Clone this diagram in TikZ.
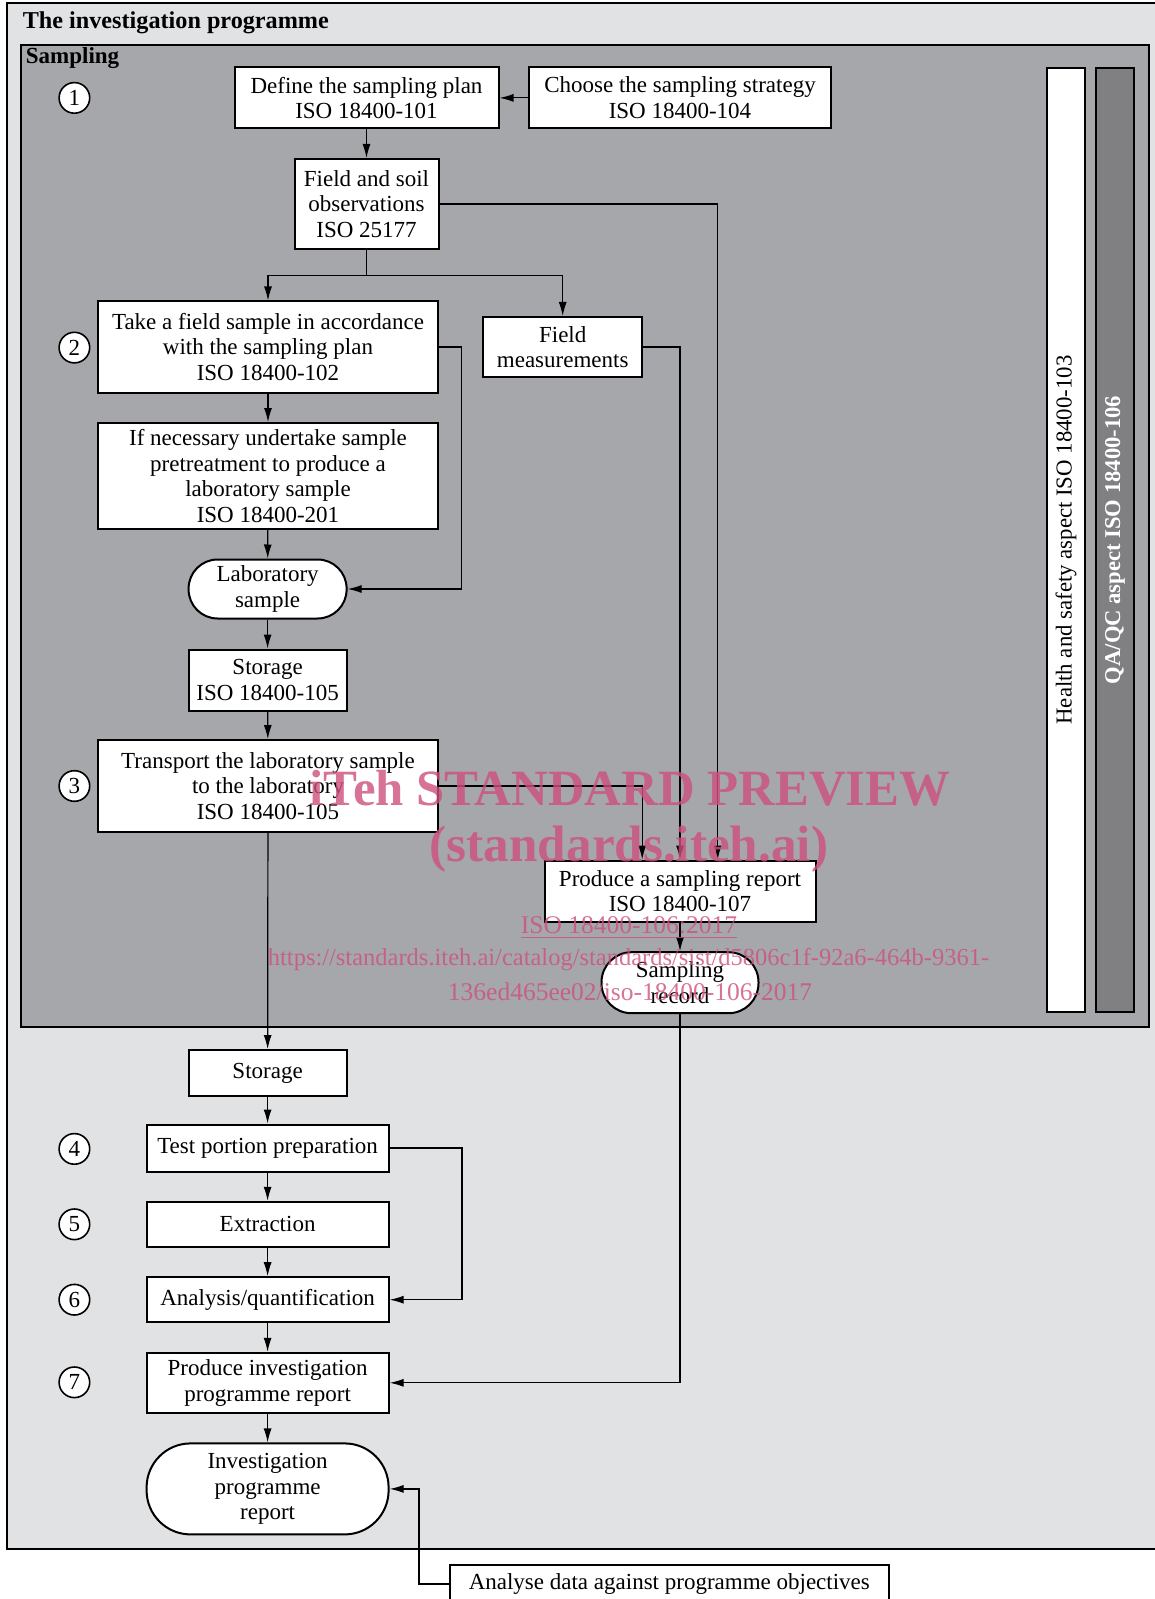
\documentclass[tikz,border=0pt]{standalone}
\usepackage{fontspec}
\setmainfont{Liberation Serif}
\usetikzlibrary{arrows.meta,calc}

\definecolor{framegrey}{HTML}{E1E2E4}
\definecolor{samplegrey}{HTML}{A6A7AB}
\definecolor{qagrey}{HTML}{808083}
\definecolor{markpink}{RGB}{205,80,125}

\tikzset{
  box/.style={draw,line width=1pt,fill=white,align=center,inner sep=0pt,
    font=\fontsize{11.5}{12.8}\selectfont},
  roundbox/.style={box,rounded corners=#1},
  arr/.style={-{Latex[length=7pt,width=4pt]},line width=0.6pt},
  num/.style={draw,circle,fill=white,line width=0.8pt,inner sep=0pt,
    minimum size=15.3pt,font=\fontsize{11.5}{12.8}\selectfont},
  strip/.style={draw,line width=1pt,rotate=90,minimum width=472pt,
    minimum height=19pt,inner sep=0pt,font=\fontsize{11.4}{12.8}\selectfont},
  watermark/.style={text=markpink,opacity=0.8,inner sep=0pt}
}

\begin{document}
\begin{tikzpicture}[x=0.5pt,y=-0.5pt]
\useasboundingbox (0,0) rectangle (1155,1599);
\clip (0,0) rectangle (1155,1599);

% frames
\draw[line width=1pt,fill=framegrey] (7,3) rectangle (1170,1549);
\draw[line width=1pt,fill=samplegrey] (21,45) rectangle (1149,1027);
\node[anchor=west,inner sep=0pt,font=\fontsize{12.1}{14}\selectfont\bfseries] (title) at (22.4,22.4) {The investigation programme};
\node[anchor=west,inner sep=0pt,font=\fontsize{11.5}{14}\selectfont\bfseries] (sampling) at (25.5,58) {Sampling};

% side strips
\node[strip,fill=white] (health) at (1066,540) {Health and safety aspect ISO 18400-103};
\node[strip,fill=qagrey,text=white,font=\fontsize{11.3}{12.8}\selectfont\bfseries] (qaqc) at (1115,540) {QA/QC aspect ISO 18400-106};

% step numbers
\foreach \n/\y in {1/97.9,2/347.6,3/786,4/1148.9,5/1224.3,6/1299.7,7/1382.3}
  \node[num] (num\n) at (74.4,\y) {\n};

% sampling part
\node[box,minimum width=132pt,minimum height=30.5pt] (define) at (366.5,97.9) {Define the sampling plan\\ISO 18400-101};
\node[box,minimum width=151pt,minimum height=30.5pt] (choose) at (680,97.9) {Choose the sampling strategy\\ISO 18400-104};
\node[box,minimum width=72pt,minimum height=45pt] (soil) at (366.5,204) {Field and soil\\observations\\ISO 25177};
\node[box,minimum width=170pt,minimum height=45.5pt] (take) at (268,347) {Take a field sample in accordance\\with the sampling plan\\ISO 18400-102};
\node[box,minimum width=79.5pt,minimum height=30pt] (meas) at (562.7,347) {Field\\measurements};
\node[box,minimum width=170pt,minimum height=53pt] (pretreat) at (268,476) {If necessary undertake sample\\pretreatment to produce a\\laboratory sample\\ISO 18400-201};
\node[roundbox=14.5pt,minimum width=79pt,minimum height=29.5pt] (labsample) at (267.6,589) {Laboratory\\sample};
\node[box,minimum width=79pt,minimum height=30.5pt] (storeA) at (267.6,680) {Storage\\ISO 18400-105};
\node[box,minimum width=170pt,minimum height=46pt] (transport) at (268,786) {Transport the laboratory sample\\to the laboratory\\ISO 18400-105};
\node[box,minimum width=135.5pt,minimum height=30.5pt] (report) at (680,891) {Produce a sampling report\\ISO 18400-107};
\node[roundbox=15pt,minimum width=78.5pt,minimum height=30.5pt] (record) at (680,982.7) {Sampling\\record};

% laboratory part
\node[box,minimum width=79pt,minimum height=23pt] (storeB) at (267.6,1073) {Storage};
\node[box,minimum width=121pt,minimum height=23.5pt] (testprep) at (267.6,1148) {Test portion preparation};
\node[box,minimum width=121pt,minimum height=22.5pt] (extract) at (267.6,1224.3) {Extraction};
\node[box,minimum width=121pt,minimum height=22.5pt] (analysis) at (267.6,1299.7) {Analysis/quantification};
\node[box,minimum width=121pt,minimum height=30pt] (progrep) at (267.6,1382.8) {Produce investigation\\programme report};
\node[roundbox=22pt,minimum width=121pt,minimum height=45.5pt] (invrep) at (267.6,1488.9) {Investigation\\programme\\report};
\node[box,minimum width=219.7pt,minimum height=19pt] (objectives) at (669.3,1584) {Analyse data against programme objectives};

% connectors
\coordinate (split) at (366.5,275.2);
\draw[arr] (choose.west) -- (define.east);
\draw[arr] (define) -- (soil);
\draw[line width=0.6pt] (soil.south) -- (split);
\draw[arr] (split) -| (take.north);
\draw[arr] (split) -| (meas.north);
\draw[arr] (soil.east) -| ([xshift=18.85pt]report.north);
\draw[arr] (meas.east) -| (report.north);
\draw[arr] (transport.east) -| ([xshift=-18.9pt]report.north);
\draw[arr] (take.east) -- ++(22.5,0) |- (labsample.east);
\draw[arr] (take) -- (pretreat);
\draw[arr] (pretreat) -- (labsample);
\draw[arr] (labsample) -- (storeA);
\draw[arr] (storeA) -- (transport);
\draw[arr] (report) -- (record);
\draw[arr] (transport) -- (storeB);
\draw[arr] (storeB) -- (testprep);
\draw[arr] (testprep) -- (extract);
\draw[arr] (extract) -- (analysis);
\draw[arr] (analysis) -- (progrep);
\draw[arr] (progrep) -- (invrep);
\draw[arr] (record.south) |- (progrep.east);
\draw[arr] (testprep.east) -- ++(72.4,0) |- (analysis.east);
\draw[arr] (objectives.west) -- ++(-29.6,0) |- (invrep.east);

% watermark
\node[watermark,font=\fontsize{25.4}{28}\selectfont\bfseries] (mark1) at (630,788) {iTeh STANDARD PREVIEW};
\node[watermark,font=\fontsize{25.6}{28}\selectfont\bfseries] (mark2) at (629,849) {(standards.iteh.ai)};
\node[watermark,font=\fontsize{12.75}{14}\selectfont] (mark3) at (629,927.6) {\underline{ISO 18400-106:2017}};
\node[watermark,font=\fontsize{12.25}{14}\selectfont] (mark4) at (628.5,960) {https://standards.iteh.ai/catalog/standards/sist/d5806c1f-92a6-464b-9361-};
\node[watermark,font=\fontsize{12.75}{14}\selectfont] (mark5) at (630,992) {136ed465ee02/iso-18400-106-2017};
\end{tikzpicture}
\end{document}
